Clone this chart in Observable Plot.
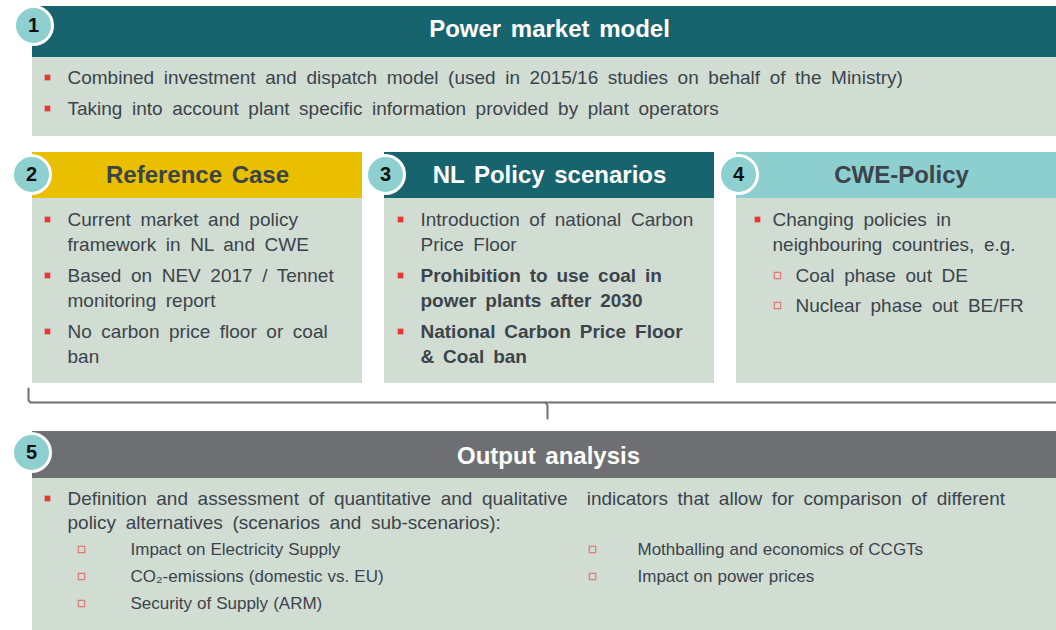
<!DOCTYPE html>
<html>
<head>
<meta charset="utf-8">
<script src="https://cdn.jsdelivr.net/npm/d3@7"></script>
<script src="https://cdn.jsdelivr.net/npm/@observablehq/plot@0.6"></script>
<style>
  html, body { margin: 0; padding: 0; background: #ffffff; }
  #chart svg { display: block; }
  .body-text text { word-spacing: 4.3px; }
  .bold-text text { word-spacing: 3.6px; }
  .small-text text { word-spacing: 0.3px; }
  .title-text text { word-spacing: 3px; }
</style>
</head>
<body>
<div id="chart"></div>
<script>
// ---------------- DATA ----------------
const boxNumbers = ["1", "2", "3", "4", "5"];
const boxTitles = ["Power market model", "Reference Case", "NL Policy scenarios", "CWE-Policy", "Output analysis"];

const box1Bullets = [
  ["Combined investment and dispatch model (used in 2015/16 studies on behalf of the Ministry)"],
  ["Taking into account plant specific information provided by plant operators"]
];
const box2Bullets = [
  ["Current market and policy", "framework in NL and CWE"],
  ["Based on NEV 2017 / Tennet", "monitoring report"],
  ["No carbon price floor or coal", "ban"]
];
const box3Bullets = [
  ["Introduction of national Carbon", "Price Floor"],
  ["Prohibition to use coal in", "power plants after 2030"],
  ["National Carbon Price Floor", "& Coal ban"]
];
const box3Bold = [false, true, true];
const box4Bullets = [
  ["Changing policies in", "neighbouring countries, e.g."]
];
const box4SubBullets = ["Coal phase out DE", "Nuclear phase out BE/FR"];
const box5Bullets = [
  ["Definition and assessment of quantitative and qualitative  indicators that allow for comparison of different",
   "policy alternatives (scenarios and sub-scenarios):"]
];
const box5SubLeft = ["Impact on Electricity Supply", "CO\u2082-emissions (domestic vs. EU)", "Security of Supply (ARM)"];
const box5SubRight = ["Mothballing and economics of CCGTs", "Impact on power prices"];

// ---------------- LAYOUT / STYLE ----------------
const C = {
  teal: "#17636E", yellow: "#E9BF00", lightTeal: "#8DCFCF", gray: "#6E6F73",
  body: "#D1DCD3", text: "#3B444B", red: "#E8372C", circle: "#8ECFCF"
};
const boxes = [
  {x1: 32, x2: 1056, hy1: 6,   hy2: 57,  by2: 136, head: C.teal,      titleFill: "#ffffff", cx: 549, cy: 29,  nx: 33,  ny: 25},
  {x1: 32, x2: 362,  hy1: 152, hy2: 198, by2: 383, head: C.yellow,    titleFill: C.text,    cx: 197, cy: 175, nx: 31,  ny: 174},
  {x1: 384, x2: 714, hy1: 152, hy2: 198, by2: 383, head: C.teal,      titleFill: "#ffffff", cx: 549, cy: 175, nx: 385, ny: 174},
  {x1: 736, x2: 1056, hy1: 152, hy2: 198, by2: 383, head: C.lightTeal, titleFill: C.text,   cx: 901, cy: 175, nx: 738, ny: 174},
  {x1: 32, x2: 1056, hy1: 431, hy2: 478, by2: 630, head: C.gray,      titleFill: "#ffffff", cx: 548, cy: 456, nx: 31,  ny: 452}
];
const headers = boxes.map((b, i) => ({...b, title: boxTitles[i], num: boxNumbers[i]}));

const normalRows = [], boldRows = [], bullets = [], hollow = [], smallRows = [];
function addBullets(list, bx, tx, y0, lineH, gap, boldFlags) {
  let y = y0;
  list.forEach((lines, i) => {
    bullets.push({x: bx, y});
    lines.forEach(l => {
      (boldFlags && boldFlags[i] ? boldRows : normalRows).push({x: tx, y, text: l});
      y += lineH;
    });
    y += gap;
  });
  return y;
}
addBullets(box1Bullets, 47, 67, 77, 31, 0);
addBullets(box2Bullets, 47, 67, 219, 25, 6);
addBullets(box3Bullets, 400, 420, 219, 25, 6, box3Bold);
addBullets(box4Bullets, 757, 772, 219, 25, 6);
box4SubBullets.forEach((t, i) => {
  hollow.push({x: 777, y: 275 + i * 30});
  normalRows.push({x: 795, y: 275 + i * 30, text: t});
});
addBullets(box5Bullets, 47, 67, 498, 24, 0);
box5SubLeft.forEach((t, i) => {
  hollow.push({x: 81, y: 549 + i * 27});
  smallRows.push({x: 130, y: 549 + i * 27, text: t});
});
box5SubRight.forEach((t, i) => {
  hollow.push({x: 592, y: 549 + i * 27});
  smallRows.push({x: 637, y: 549 + i * 27, text: t});
});

const brace = [
  [{x: 28, y: 388}, {x: 28, y: 400}, {x: 30, y: 402}, {x: 1056, y: 402}],
  [{x: 545, y: 402}, {x: 547, y: 405}, {x: 547, y: 418}]
];

const font = "'Liberation Sans', Arial, sans-serif";

const chart = Plot.plot({
  width: 1056, height: 630,
  margin: 0,
  x: {type: "identity"},
  y: {type: "identity"},
  style: {fontFamily: font, background: "#ffffff"},
  marks: [
    Plot.rect(boxes, {x1: "x1", x2: "x2", y1: "hy2", y2: "by2", fill: C.body}),
    Plot.rect(boxes, {x1: "x1", x2: "x2", y1: "hy1", y2: "hy2", fill: "head"}),
    ...brace.map(p => Plot.line(p, {x: "x", y: "y", stroke: "#707176", strokeWidth: 2, curve: "linear"})),
    Plot.dot(headers, {x: "nx", y: "ny", r: 19, fill: C.circle, stroke: "#ffffff", strokeWidth: 3}),
    Plot.text(headers, {x: "nx", y: "ny", text: "num", fill: "#111111", fontSize: 20, fontWeight: "bold"}),
    Plot.text(headers, {x: "cx", y: "cy", text: "title", fill: "titleFill", fontSize: 24, fontWeight: "bold", className: "title-text"}),
    Plot.dot(bullets, {x: "x", y: "y", symbol: "square", r: 3.2, fill: C.red}),
    Plot.dot(hollow, {x: "x", y: "y", symbol: "square", r: 3.6, fill: "none", stroke: "#E07A72", strokeWidth: 1.2}),
    Plot.text(normalRows, {x: "x", y: "y", text: "text", fill: C.text, fontSize: 19, textAnchor: "start", className: "body-text"}),
    Plot.text(boldRows, {x: "x", y: "y", text: "text", fill: C.text, fontSize: 19, fontWeight: "bold", textAnchor: "start", className: "bold-text"}),
    Plot.text(smallRows, {x: "x", y: "y", text: "text", fill: C.text, fontSize: 17, textAnchor: "start", className: "small-text"})
  ]
});
document.getElementById("chart").appendChild(chart);
</script>
</body>
</html>
